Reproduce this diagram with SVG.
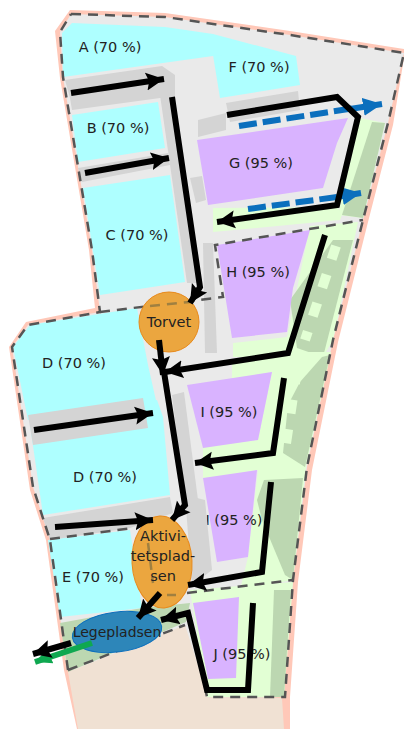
<svg xmlns="http://www.w3.org/2000/svg" width="404" height="729" viewBox="0 0 404 729">
<defs>
<marker id="ah" markerUnits="userSpaceOnUse" markerWidth="20" markerHeight="20" refX="18" refY="10" orient="auto"><path d="M0 1L18 10L0 19L3 10Z" fill="#000"/></marker>
<marker id="ab" markerUnits="userSpaceOnUse" markerWidth="22" markerHeight="20" refX="19" refY="10" orient="auto"><path d="M0 1L19 10L0 19Z" fill="#0b6fbd"/></marker>
<marker id="ag" markerUnits="userSpaceOnUse" markerWidth="20" markerHeight="20" refX="17" refY="9" orient="auto"><path d="M0 2L17 9L2 17Z" fill="#0fa850"/></marker>
</defs>
<style>
text{font-family:"DejaVu Sans",Verdana,sans-serif;font-size:14.5px;fill:#222;text-anchor:middle}
.cy{fill:#aeffff}.pu{fill:#d9b3ff}.lg{fill:#e2ffd4}.dg{fill:#bcd7b1}.rd{fill:#d4d4d4}
.sec{fill:none;stroke:#555;stroke-width:2.5;stroke-dasharray:10 7}
.inner{fill:none;stroke:#a08040;stroke-width:2.5;stroke-dasharray:10 7}
.house{fill:none;stroke:#e2ffd4;stroke-width:10;stroke-dasharray:14 16}
.flow{fill:none;stroke:#000;stroke-width:6;marker-end:url(#ah)}
.blue{fill:none;stroke:#0b6fbd;stroke-width:6}
</style>
<rect width="404" height="729" fill="#fff"/>
<g id="site">
<path d="M70 10L165 13L290 31L404 49V58L393 125L368 222L338 342L312 470L298 582L290 697V729H77L64 670L46 540L30 490L9 347L26 322L95 308L89 250L60 78L55 31Z" fill="#ffc8b8"/>
<path d="M71 14L165 17L290 35L404 53L388 123L363 220L333 340L307 467L293 580L283 697H207L205 687L67 670L50 540L33 487L12 347L28 325L100 312L92 250L63 77L60 32Z" fill="#eaeaea"/>
<path d="M68 672L185 625L207 693L282 698L284 729H78Z" fill="#f0e1d3"/>
<path d="M60 623L142 608L190 603L186 622L68 672Z" class="dg"/>
<path d="M360 118L385 123L363 218L338 215Z" class="lg"/>
<path d="M372 122L385 123L363 218L342 215Z" class="dg"/>
<path d="M213 208L337 207L342 215L340 220L213 232Z" class="lg"/>
<path d="M310 226L358 222L333 340L323 357L233 357V343L287 337Z" class="lg"/>
<path d="M333 240L353 240L323 357L297 348L290 300Z" class="dg"/>
<path d="M232 363L297 352L331 352L306 467L293 580L240 590L248 557L258 470L203 480V447L258 440L272 372L232 380Z" class="lg"/>
<path d="M300 382L322 357L330 355L305 467L283 453L288 405Z" class="dg"/>
<path d="M257 500L264 480L303 478L293 580L285 575L262 520Z" class="dg"/>
<path d="M190 590L293 582L284 697H207Z" class="lg"/>
<path d="M274 590L291 590L284 697H270Z" class="dg"/>
<path d="M336 246L305 340" class="house"/>
<path d="M297 370L285 450" class="house"/>
</g>
<g id="A"><path class="cy" d="M62 33L72 23L165 27L213 34L296 56L213 56L63 77Z"/><text x="110" y="52">A (70 %)</text></g>
<g id="F"><path class="cy" d="M213 55L296 56L300 85L220 98Z"/><text x="259" y="72">F (70 %)</text></g>
<g id="B"><path class="cy" d="M72 115L158 102L165 148L78 162Z"/><text x="118" y="133">B (70 %)</text></g>
<g id="C"><path class="cy" d="M83 188L170 175L185 282L100 295Z"/><text x="137" y="240">C (70 %)</text></g>
<g id="D1"><path class="cy" d="M13 347L30 325L137 308L148 365L157 405L28 420Z"/><text x="74" y="368">D (70 %)</text></g>
<g id="D2"><path class="cy" d="M30 425L157 400L163 417L170 495L43 515Z"/><text x="105" y="482">D (70 %)</text></g>
<g id="E"><path class="cy" d="M48 540L130 530L142 608L60 617Z"/><text x="93" y="582">E (70 %)</text></g>
<g id="G"><path class="pu" d="M197 140L348 118L337 143L323 188L208 205Z"/><text x="261" y="168">G (95 %)</text></g>
<g id="H"><path class="pu" d="M217 245L310 230L293 288L287 332L232 338Z"/><text x="258" y="277">H (95 %)</text></g>
<g id="I1"><path class="pu" d="M187 385L272 372L258 440L203 448Z"/><text x="229" y="417">I (95 %)</text></g>
<g id="I2"><path class="pu" d="M203 478L257 470L248 557L217 562Z"/><text x="234" y="525">I (95 %)</text></g>
<g id="J"><path class="pu" d="M193 603L239 597L236 678L208 679Z"/></g>
<g id="roads">
<path class="rd" d="M65 80L162 66L175 75V98L160 98L72 110L70 98Z"/>
<path class="rd" d="M78 168L168 153L170 165L82 182Z"/>
<path class="rd" d="M160 95L173 85L200 283L187 283Z"/>
<path class="rd" d="M226 103L298 91L300 110L230 122Z"/>
<path class="rd" d="M198 120L226 113V130L198 137Z"/>
<path class="rd" d="M190 178L202 176L206 200L196 203Z"/>
<path class="rd" d="M203 243H213L217 353H205Z"/>
<path class="rd" d="M28 415L143 398L148 428L33 445Z"/>
<path class="rd" d="M172 395L184 392L198 500L185 505Z"/>
<path class="rd" d="M43 518L170 497L173 513L130 528L50 540Z"/>
<path class="rd" d="M185 495L205 500L212 570L192 585Z"/>
</g>
<g id="sections">
<path class="sec" d="M71 14L165 17L290 35L404 53L388 123L363 220L333 340L307 467L293 580L285 697H207L205 687"/>
<path class="sec" d="M68 670L50 540L33 487L12 347L28 325L100 312L92 250L63 77L60 32L71 14"/>
<path class="sec" d="M100 312L223 297L215 245L363 220"/>
<path class="sec" d="M50 539L133 528"/>
<path class="sec" d="M187 593L293 580"/>
<path class="sec" d="M68 670L185 625"/>
</g>
<g id="Torvet"><circle cx="169" cy="322" r="30" fill="#eba63f" stroke="#e8891a"/><path class="inner" d="M150 306L190 302"/><text x="169" y="327">Torvet</text></g>
<g id="Aktivitetspladsen"><ellipse cx="162" cy="562" rx="30" ry="46" transform="rotate(-3 162 562)" fill="#eba63f" stroke="#e8891a"/><path class="inner" d="M148 543L153 583M167 595H176"/><text x="163" y="541">Aktivi-</text><text x="163" y="561">tetsplad-</text><text x="163" y="581">sen</text></g>
<g id="Legepladsen"><ellipse cx="117" cy="632" rx="45" ry="20" transform="rotate(-7 117 632)" fill="#2d86b9" stroke="#0b6fbd"/><text x="117" y="637" style="font-size:14px">Legepladsen</text></g>
<g id="J-label"><text x="242" y="659">J (95 %)</text></g>
<g id="connectors">
<path class="flow" d="M71 93L164 79"/>
<path class="flow" d="M85 173L169 158"/>
<path class="flow" d="M172 97L200 287L190 303"/>
<path class="blue" d="M239 126L355 108" stroke-dasharray="18 6"/>
<path class="blue" d="M350 109L382 104" marker-end="url(#ab)"/>
<path class="blue" d="M248 209L337 197" stroke-dasharray="18 6"/>
<path class="blue" d="M337 197L361 193" marker-end="url(#ab)"/>
<path class="flow" d="M227 115L337 97L358 117L337 205L217 222"/>
<path class="flow" d="M325 235L288 353L165 372"/>
<path class="flow" d="M159 340L163 375"/>
<path class="flow" d="M164 372L185 505L172 520"/>
<path class="flow" d="M34 430L153 413"/>
<path class="flow" d="M55 527L153 520"/>
<path class="flow" d="M284 378L273 453L195 463"/>
<path class="flow" d="M271 482L262 572L188 585"/>
<path class="flow" d="M160 593L138 618"/>
<path class="flow" d="M253 603L248 690H207L188 613L161 620"/>
<path d="M92 643L35 662" fill="none" stroke="#0fa850" stroke-width="6" marker-end="url(#ag)"/>
<path class="flow" d="M71 643L33 654"/>
</g>
</svg>
